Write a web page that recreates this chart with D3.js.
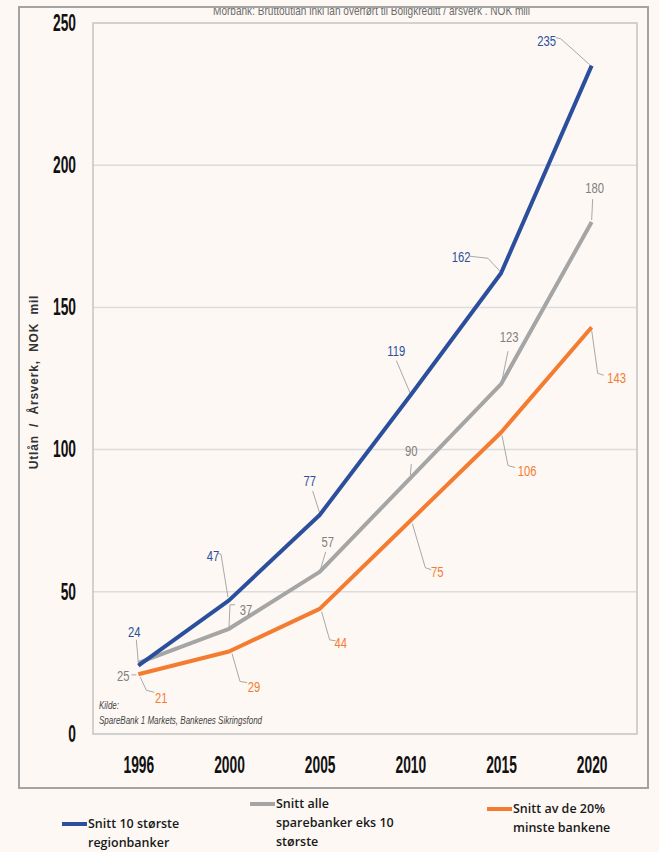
<!DOCTYPE html>
<html lang="no">
<head>
    <meta charset="UTF-8">
    <title>Utlån per årsverk</title>
    <style>
        body { margin: 0; background: #fdf8f4; }
        svg text { font-family: "Liberation Sans", Arial, sans-serif; }
        .legend text { font-family: "Open Sans", "Liberation Sans", sans-serif; font-weight: 600; font-size: 12.5px; fill: #1a1a1a; }
    </style>
</head>
<body>
<div id="chart"></div>
<script src="https://d3js.org/d3.v7.min.js"></script>
<script>
    // data
    const years = ["1996", "2000", "2005", "2010", "2015", "2020"];
    const yTicks = [0, 50, 100, 150, 200, 250];
    const top10 = [24, 47, 77, 119, 162, 235];
    const allSpare = [25, 37, 57, 90, 123, 180];
    const smallest = [21, 29, 44, 75, 106, 143];

    const seriesNames = [
        ["Snitt 10 største", "regionbanker"],
        ["Snitt alle", "sparebanker eks 10", "største"],
        ["Snitt av de 20%", "minste bankene"]
    ];

    const title = "Morbank: Bruttoutlån inkl lån overført til Boligkreditt / årsverk . NOK mill";
    const yTitle = "Utlån  /  Årsverk,  NOK  mil";
    const source = ["Kilde:", "SpareBank 1 Markets, Bankenes Sikringsfond"];

    // label placement: [dx, dy] of the label, and the leader polyline, relative to the point
    const labelPos = [
        [[-4, -34], [-16, -45], [-10, -34], [-14, -45], [-40, -17], [-45, -25]],
        [[-15, 13], [17, -19], [8, -30], [1, -27], [8, -47], [3, -34]],
        [[23, 23], [25, 35], [21, 34], [27, 51], [26, 38], [25, 50]]
    ];
    const leaders = [
        [[[-2, -26], [0, -3]], [[-11, -47], [-8, -46], [-1, -3]], [[-7, -24], [0, -2]], [[-14, -35], [0, -2]], [[-31, -17], [-13, -15], [-1, -2]], [[-36, -28], [-31, -27], [-2, -1]]],
        [[[-7, 12], [-2, 12]], [[6, -24], [1, -24], [0, -2]], [[6, -20], [1, -3]], [[1, -14], [0, -3]], [[7, -33], [1, -4]], [[1, -23], [0, -2]]],
        [[[2, 3], [8, 16], [16, 18]], [[3, 2], [11, 30], [18, 31]], [[2, 3], [10, 31], [16, 32]], [[2, 3], [15, 47], [21, 49]], [[1, 3], [7, 33], [14, 35]], [[0, 3], [6, 46], [12, 48]]]
    ];

    const colors = ["#2b4f9c", "#a5a5a5", "#f47c30"];
    const series = [top10, allSpare, smallest];

    const width = 659, height = 852;
    const plot = { left: 93, right: 637, top: 23, bottom: 734 };

    const svg = d3.select("#chart").append("svg")
        .attr("width", width)
        .attr("height", height);

    svg.append("rect").attr("width", width).attr("height", height).attr("fill", "#fdf8f4");

    // title, cut off at the top like in the source image
    svg.append("text")
        .attr("x", 213).attr("y", 15)
        .attr("font-size", 13)
        .attr("textLength", 317)
        .attr("lengthAdjust", "spacingAndGlyphs")
        .attr("fill", "#6b6b6b")
        .text(title);
    svg.append("rect").attr("x", 0).attr("y", 0).attr("width", width).attr("height", 8).attr("fill", "#fdf8f4");

    // outer frame
    svg.append("rect")
        .attr("x", 19).attr("y", 7)
        .attr("width", 629).attr("height", 781)
        .attr("fill", "none")
        .attr("stroke", "#a3a3a3")
        .attr("stroke-width", 2);

    const x = d3.scalePoint().domain(years).range([plot.left, plot.right]).padding(0.5);
    const y = d3.scaleLinear().domain([0, 250]).range([plot.bottom, plot.top]);

    // gridlines
    svg.append("g").selectAll("line")
        .data(yTicks.filter(d => d > 0 && d < 250))
        .enter().append("line")
        .attr("x1", plot.left).attr("x2", plot.right)
        .attr("y1", d => y(d)).attr("y2", d => y(d))
        .attr("stroke", "#dcdcdc")
        .attr("stroke-width", 1.5);

    // plot frame
    svg.append("rect")
        .attr("x", plot.left).attr("y", plot.top)
        .attr("width", plot.right - plot.left).attr("height", plot.bottom - plot.top)
        .attr("fill", "none")
        .attr("stroke", "#c4c4c4")
        .attr("stroke-width", 1.5);

    // the source uses a narrow font, so squeeze the glyphs horizontally
    function narrow(sel, k) {
        sel.attr("transform", `scale(${k},1)`);
    }

    // y axis labels
    const yAxis = svg.append("g")
        .attr("transform", "translate(76,0)")
        .call(d3.axisLeft(y).tickValues(yTicks).tickSize(0).tickPadding(0));
    yAxis.select(".domain").remove();
    yAxis.selectAll("text")
        .attr("font-family", "'Liberation Sans', sans-serif")
        .attr("font-size", 23)
        .attr("font-weight", "bold")
        .attr("fill", "#111")
        .call(narrow, 0.6);

    // x axis labels
    const xAxis = svg.append("g")
        .attr("transform", "translate(0,757)")
        .call(d3.axisBottom(x).tickSize(0).tickPadding(0));
    xAxis.select(".domain").remove();
    xAxis.selectAll("text")
        .attr("font-family", "'Liberation Sans', sans-serif")
        .attr("font-size", 23)
        .attr("font-weight", "bold")
        .attr("fill", "#111")
        .call(narrow, 0.6);

    // y axis title
    svg.append("text")
        .attr("transform", "translate(38,382) rotate(-90)")
        .attr("text-anchor", "middle")
        .attr("font-family", "'Open Sans', sans-serif")
        .attr("font-weight", "bold")
        .attr("font-size", 12)
        .attr("letter-spacing", 0.8)
        .attr("fill", "#333")
        .style("white-space", "pre")
        .text(yTitle);

    // source note
    svg.append("g").selectAll("text")
        .data(source)
        .enter().append("text")
        .attr("transform", (d, i) => `translate(99,${709 + i * 15}) scale(0.8,1)`)
        .attr("font-size", 10)
        .attr("font-style", "italic")
        .attr("fill", "#444")
        .text(d => d);

    const line = d3.line()
        .x((d, i) => x(years[i]))
        .y(d => y(d));

    // leader lines
    series.forEach((s, si) => {
        const g = svg.append("g");
        s.forEach((v, i) => {
            const px = x(years[i]), py = y(v);
            g.append("polyline")
                .attr("points", leaders[si][i].map(p => (px + p[0]) + "," + (py + p[1])).join(" "))
                .attr("fill", "none")
                .attr("stroke", "#a8a8a8")
                .attr("stroke-width", 1);
        });
    });

    // series lines (grey first, then orange, blue on top)
    [1, 2, 0].forEach(si => {
        svg.append("path")
            .datum(series[si])
            .attr("d", line)
            .attr("fill", "none")
            .attr("stroke", colors[si])
            .attr("stroke-width", 4)
            .attr("stroke-linejoin", "round");
    });

    // data labels
    series.forEach((s, si) => {
        svg.append("g").selectAll("text")
            .data(s)
            .enter().append("text")
            .attr("transform", (d, i) =>
                `translate(${x(years[i]) + labelPos[si][i][0]},${y(d) + labelPos[si][i][1]}) scale(0.75,1)`)
            .attr("dy", "0.35em")
            .attr("text-anchor", "middle")
            .attr("font-size", 15)
            .attr("fill", si === 1 ? "#7f7f7f" : colors[si])
            .text(d => d);
    });

    // legend
    const legendPos = [[62, 828], [250, 808], [487, 813]];
    const legend = svg.append("g").attr("class", "legend");
    seriesNames.forEach((names, si) => {
        const [lx, ly] = legendPos[si];
        legend.append("line")
            .attr("x1", lx).attr("x2", lx + 25)
            .attr("y1", ly - 4).attr("y2", ly - 4)
            .attr("stroke", colors[si])
            .attr("stroke-width", 4);
        names.forEach((t, j) => {
            legend.append("text")
                .attr("x", lx + 26)
                .attr("y", ly + j * 19)
                .text(t);
        });
    });
</script>
</body>
</html>
